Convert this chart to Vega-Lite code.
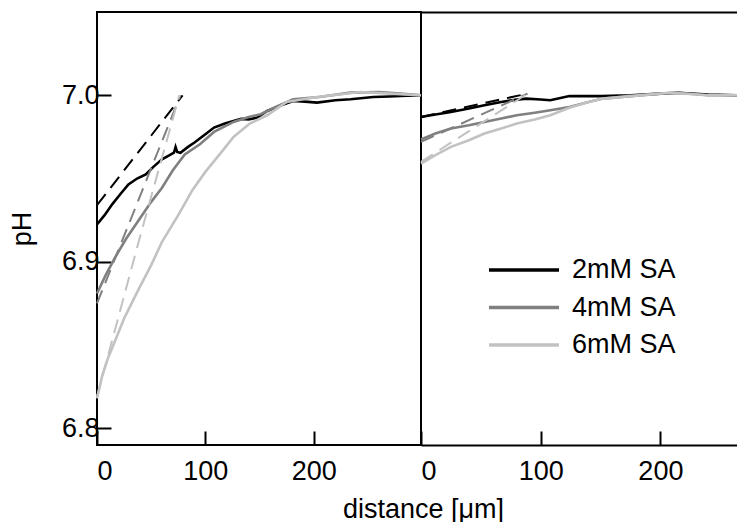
{
  "$schema": "https://vega.github.io/schema/vega-lite/v6.json",
  "padding": {"left": 7, "top": 11, "right": 0, "bottom": 0},
  "spacing": 0,
  "bounds": "flush",
  "config": {
    "font": "Liberation Sans",
    "axis": {"labelFont": "Liberation Sans", "titleFont": "Liberation Sans", "labelColor": "#000", "titleColor": "#000", "labelFontSize": 27, "titleFontSize": 27, "titleFontWeight": "normal", "tickColor": "#000", "tickWidth": 2, "tickSize": -14, "grid": false, "domainColor": "#000", "domainWidth": 2},
    "legend": {"labelFont": "Liberation Sans", "labelFontSize": 27, "labelColor": "#000"}
  },
  "datasets": {
    "d": [
      {"p":"L","s":"2mM SA","k":"data","x":0,"y":6.9224},{"p":"L","s":"2mM SA","k":"data","x":7,"y":6.928},{"p":"L","s":"2mM SA","k":"data","x":14,"y":6.9345},{"p":"L","s":"2mM SA","k":"data","x":22,"y":6.941},{"p":"L","s":"2mM SA","k":"data","x":29,"y":6.9465},{"p":"L","s":"2mM SA","k":"data","x":37,"y":6.95},{"p":"L","s":"2mM SA","k":"data","x":45,"y":6.9525},{"p":"L","s":"2mM SA","k":"data","x":52,"y":6.957},{"p":"L","s":"2mM SA","k":"data","x":60,"y":6.9615},{"p":"L","s":"2mM SA","k":"data","x":67,"y":6.964},{"p":"L","s":"2mM SA","k":"data","x":71,"y":6.9655},{"p":"L","s":"2mM SA","k":"data","x":72.5,"y":6.969},{"p":"L","s":"2mM SA","k":"data","x":74,"y":6.966},{"p":"L","s":"2mM SA","k":"data","x":77,"y":6.9655},{"p":"L","s":"2mM SA","k":"data","x":84,"y":6.969},{"p":"L","s":"2mM SA","k":"data","x":90,"y":6.9716},{"p":"L","s":"2mM SA","k":"data","x":100,"y":6.9766},{"p":"L","s":"2mM SA","k":"data","x":108,"y":6.9806},{"p":"L","s":"2mM SA","k":"data","x":118,"y":6.983},{"p":"L","s":"2mM SA","k":"data","x":126,"y":6.9846},{"p":"L","s":"2mM SA","k":"data","x":133,"y":6.9858},{"p":"L","s":"2mM SA","k":"data","x":140,"y":6.9855},{"p":"L","s":"2mM SA","k":"data","x":148,"y":6.9866},{"p":"L","s":"2mM SA","k":"data","x":157,"y":6.9906},{"p":"L","s":"2mM SA","k":"data","x":170,"y":6.994},{"p":"L","s":"2mM SA","k":"data","x":181,"y":6.9966},{"p":"L","s":"2mM SA","k":"data","x":192,"y":6.9962},{"p":"L","s":"2mM SA","k":"data","x":203,"y":6.9956},{"p":"L","s":"2mM SA","k":"data","x":220,"y":6.997},{"p":"L","s":"2mM SA","k":"data","x":234,"y":6.9976},{"p":"L","s":"2mM SA","k":"data","x":255,"y":6.999},{"p":"L","s":"2mM SA","k":"data","x":270,"y":6.9993},{"p":"L","s":"2mM SA","k":"data","x":280,"y":6.9996},{"p":"L","s":"2mM SA","k":"data","x":299,"y":7.0},
      {"p":"L","s":"4mM SA","k":"data","x":0,"y":6.881},{"p":"L","s":"4mM SA","k":"data","x":8,"y":6.892},{"p":"L","s":"4mM SA","k":"data","x":17,"y":6.903},{"p":"L","s":"4mM SA","k":"data","x":27,"y":6.914},{"p":"L","s":"4mM SA","k":"data","x":38,"y":6.9245},{"p":"L","s":"4mM SA","k":"data","x":50,"y":6.936},{"p":"L","s":"4mM SA","k":"data","x":60,"y":6.9445},{"p":"L","s":"4mM SA","k":"data","x":70,"y":6.955},{"p":"L","s":"4mM SA","k":"data","x":81,"y":6.9645},{"p":"L","s":"4mM SA","k":"data","x":95,"y":6.9706},{"p":"L","s":"4mM SA","k":"data","x":108,"y":6.978},{"p":"L","s":"4mM SA","k":"data","x":126,"y":6.984},{"p":"L","s":"4mM SA","k":"data","x":140,"y":6.987},{"p":"L","s":"4mM SA","k":"data","x":151,"y":6.9886},{"p":"L","s":"4mM SA","k":"data","x":165,"y":6.993},{"p":"L","s":"4mM SA","k":"data","x":181,"y":6.9976},{"p":"L","s":"4mM SA","k":"data","x":205,"y":6.999},{"p":"L","s":"4mM SA","k":"data","x":234,"y":7.0016},{"p":"L","s":"4mM SA","k":"data","x":260,"y":7.002},{"p":"L","s":"4mM SA","k":"data","x":280,"y":7.001},{"p":"L","s":"4mM SA","k":"data","x":299,"y":7.0},
      {"p":"L","s":"6mM SA","k":"data","x":0,"y":6.818},{"p":"L","s":"6mM SA","k":"data","x":5,"y":6.832},{"p":"L","s":"6mM SA","k":"data","x":10,"y":6.842},{"p":"L","s":"6mM SA","k":"data","x":17,"y":6.853},{"p":"L","s":"6mM SA","k":"data","x":25,"y":6.866},{"p":"L","s":"6mM SA","k":"data","x":38,"y":6.883},{"p":"L","s":"6mM SA","k":"data","x":50,"y":6.898},{"p":"L","s":"6mM SA","k":"data","x":60,"y":6.912},{"p":"L","s":"6mM SA","k":"data","x":75,"y":6.928},{"p":"L","s":"6mM SA","k":"data","x":88,"y":6.943},{"p":"L","s":"6mM SA","k":"data","x":100,"y":6.954},{"p":"L","s":"6mM SA","k":"data","x":115,"y":6.966},{"p":"L","s":"6mM SA","k":"data","x":126,"y":6.975},{"p":"L","s":"6mM SA","k":"data","x":141,"y":6.983},{"p":"L","s":"6mM SA","k":"data","x":157,"y":6.988},{"p":"L","s":"6mM SA","k":"data","x":175,"y":6.996},{"p":"L","s":"6mM SA","k":"data","x":203,"y":6.999},{"p":"L","s":"6mM SA","k":"data","x":243,"y":7.002},{"p":"L","s":"6mM SA","k":"data","x":270,"y":7.001},{"p":"L","s":"6mM SA","k":"data","x":299,"y":7.0},
      {"p":"L","s":"2mM SA","k":"fit","x":0,"y":6.934},{"p":"L","s":"2mM SA","k":"fit","x":79,"y":7.0},
      {"p":"L","s":"4mM SA","k":"fit","x":0,"y":6.875},{"p":"L","s":"4mM SA","k":"fit","x":77,"y":7.0},
      {"p":"L","s":"6mM SA","k":"fit","x":0,"y":6.819},{"p":"L","s":"6mM SA","k":"fit","x":38,"y":6.911},{"p":"L","s":"6mM SA","k":"fit","x":76,"y":7.0},
      {"p":"R","s":"2mM SA","k":"data","x":0,"y":6.987},{"p":"R","s":"2mM SA","k":"data","x":12,"y":6.9885},{"p":"R","s":"2mM SA","k":"data","x":25,"y":6.99},{"p":"R","s":"2mM SA","k":"data","x":40,"y":6.992},{"p":"R","s":"2mM SA","k":"data","x":53,"y":6.994},{"p":"R","s":"2mM SA","k":"data","x":67,"y":6.996},{"p":"R","s":"2mM SA","k":"data","x":80,"y":6.9974},{"p":"R","s":"2mM SA","k":"data","x":88,"y":6.998},{"p":"R","s":"2mM SA","k":"data","x":100,"y":6.9975},{"p":"R","s":"2mM SA","k":"data","x":108,"y":6.997},{"p":"R","s":"2mM SA","k":"data","x":124,"y":6.9995},{"p":"R","s":"2mM SA","k":"data","x":150,"y":6.9995},{"p":"R","s":"2mM SA","k":"data","x":175,"y":7.0},{"p":"R","s":"2mM SA","k":"data","x":200,"y":7.001},{"p":"R","s":"2mM SA","k":"data","x":215,"y":7.0015},{"p":"R","s":"2mM SA","k":"data","x":240,"y":7.0005},{"p":"R","s":"2mM SA","k":"data","x":264,"y":7.0},
      {"p":"R","s":"4mM SA","k":"data","x":0,"y":6.9734},{"p":"R","s":"4mM SA","k":"data","x":12,"y":6.977},{"p":"R","s":"4mM SA","k":"data","x":25,"y":6.98},{"p":"R","s":"4mM SA","k":"data","x":40,"y":6.982},{"p":"R","s":"4mM SA","k":"data","x":53,"y":6.984},{"p":"R","s":"4mM SA","k":"data","x":67,"y":6.986},{"p":"R","s":"4mM SA","k":"data","x":80,"y":6.988},{"p":"R","s":"4mM SA","k":"data","x":95,"y":6.9895},{"p":"R","s":"4mM SA","k":"data","x":108,"y":6.991},{"p":"R","s":"4mM SA","k":"data","x":124,"y":6.993},{"p":"R","s":"4mM SA","k":"data","x":140,"y":6.996},{"p":"R","s":"4mM SA","k":"data","x":152,"y":6.998},{"p":"R","s":"4mM SA","k":"data","x":175,"y":6.9995},{"p":"R","s":"4mM SA","k":"data","x":200,"y":7.001},{"p":"R","s":"4mM SA","k":"data","x":215,"y":7.0015},{"p":"R","s":"4mM SA","k":"data","x":240,"y":7.0},{"p":"R","s":"4mM SA","k":"data","x":264,"y":7.0},
      {"p":"R","s":"6mM SA","k":"data","x":0,"y":6.959},{"p":"R","s":"6mM SA","k":"data","x":12,"y":6.964},{"p":"R","s":"6mM SA","k":"data","x":25,"y":6.969},{"p":"R","s":"6mM SA","k":"data","x":40,"y":6.973},{"p":"R","s":"6mM SA","k":"data","x":53,"y":6.977},{"p":"R","s":"6mM SA","k":"data","x":67,"y":6.98},{"p":"R","s":"6mM SA","k":"data","x":80,"y":6.983},{"p":"R","s":"6mM SA","k":"data","x":95,"y":6.9855},{"p":"R","s":"6mM SA","k":"data","x":108,"y":6.988},{"p":"R","s":"6mM SA","k":"data","x":124,"y":6.9925},{"p":"R","s":"6mM SA","k":"data","x":140,"y":6.996},{"p":"R","s":"6mM SA","k":"data","x":152,"y":6.998},{"p":"R","s":"6mM SA","k":"data","x":175,"y":6.9995},{"p":"R","s":"6mM SA","k":"data","x":208,"y":7.0015},{"p":"R","s":"6mM SA","k":"data","x":240,"y":7.0},{"p":"R","s":"6mM SA","k":"data","x":264,"y":7.0},
      {"p":"R","s":"2mM SA","k":"fit","x":0,"y":6.987},{"p":"R","s":"2mM SA","k":"fit","x":89,"y":7.001},
      {"p":"R","s":"4mM SA","k":"fit","x":0,"y":6.972},{"p":"R","s":"4mM SA","k":"fit","x":89,"y":7.001},
      {"p":"R","s":"6mM SA","k":"fit","x":0,"y":6.96},{"p":"R","s":"6mM SA","k":"fit","x":89,"y":7.001}
    ]
  },
  "hconcat": [
    {
      "width": 324,
      "height": 433,
      "view": {"stroke": "#000", "strokeWidth": 2},
      "data": {"name": "d"},
      "transform": [{"filter": "datum.p == 'L'"}],
      "encoding": {
        "x": {"field": "x", "type": "quantitative", "scale": {"domain": [0, 299], "nice": false, "zero": false}, "axis": {"values": [0, 100, 200], "domain": false, "labelPadding": 27, "title": "distance [μm]", "titleX": 326, "titleAlign": "center", "titlePadding": 12}},
        "y": {"field": "y", "type": "quantitative", "scale": {"domain": [6.79, 7.05], "nice": false, "zero": false}, "axis": {"values": [6.8, 6.9, 7.0], "format": ".1f", "domain": false, "labelPadding": 12, "title": "pH", "titlePadding": 25}},
        "color": {"field": "s", "type": "nominal", "scale": {"domain": ["2mM SA", "4mM SA", "6mM SA"], "range": ["#000000", "#808080", "#c2c2c2"]}, "legend": {"title": null, "orient": "none", "legendX": 411, "legendY": 242, "symbolType": "M-2.5,0H2.5", "symbolSize": 784, "symbolStrokeWidth": 3.5, "labelOffset": 32, "rowPadding": 8.5, "padding": 0}}
      },
      "layer": [
        {"transform": [{"filter": "datum.k == 'data'"}], "mark": {"type": "line", "strokeWidth": 2.6}},
        {"transform": [{"filter": "datum.k == 'fit'"}], "mark": {"type": "line", "strokeWidth": 2, "strokeDash": [14, 8]}}
      ]
    },
    {
      "width": 316,
      "height": 433,
      "view": {"stroke": null},
      "data": {"name": "d"},
      "transform": [{"filter": "datum.p == 'R'"}],
      "resolve": {"axis": {"x": "independent"}},
      "layer": [
        {
          "transform": [{"filter": "datum.k == 'data'"}],
          "mark": {"type": "line", "strokeWidth": 2.6},
          "encoding": {
            "x": {"field": "x", "type": "quantitative", "scale": {"domain": [0, 264], "nice": false, "zero": false}, "axis": {"orient": "bottom", "values": [0, 100, 200], "domain": true, "labelPadding": 27, "title": null}},
            "y": {"field": "y", "type": "quantitative", "scale": {"domain": [6.79, 7.05], "nice": false, "zero": false}, "axis": null},
            "color": {"field": "s", "type": "nominal"}
          }
        },
        {
          "transform": [{"filter": "datum.k == 'fit'"}],
          "mark": {"type": "line", "strokeWidth": 2, "strokeDash": [14, 8]},
          "encoding": {
            "x": {"field": "x", "type": "quantitative", "scale": {"domain": [0, 264], "nice": false, "zero": false}, "axis": {"orient": "top", "domain": true, "ticks": false, "labels": false, "title": null}},
            "y": {"field": "y", "type": "quantitative", "scale": {"domain": [6.79, 7.05], "nice": false, "zero": false}, "axis": null},
            "color": {"field": "s", "type": "nominal"}
          }
        }
      ]
    }
  ]
}
